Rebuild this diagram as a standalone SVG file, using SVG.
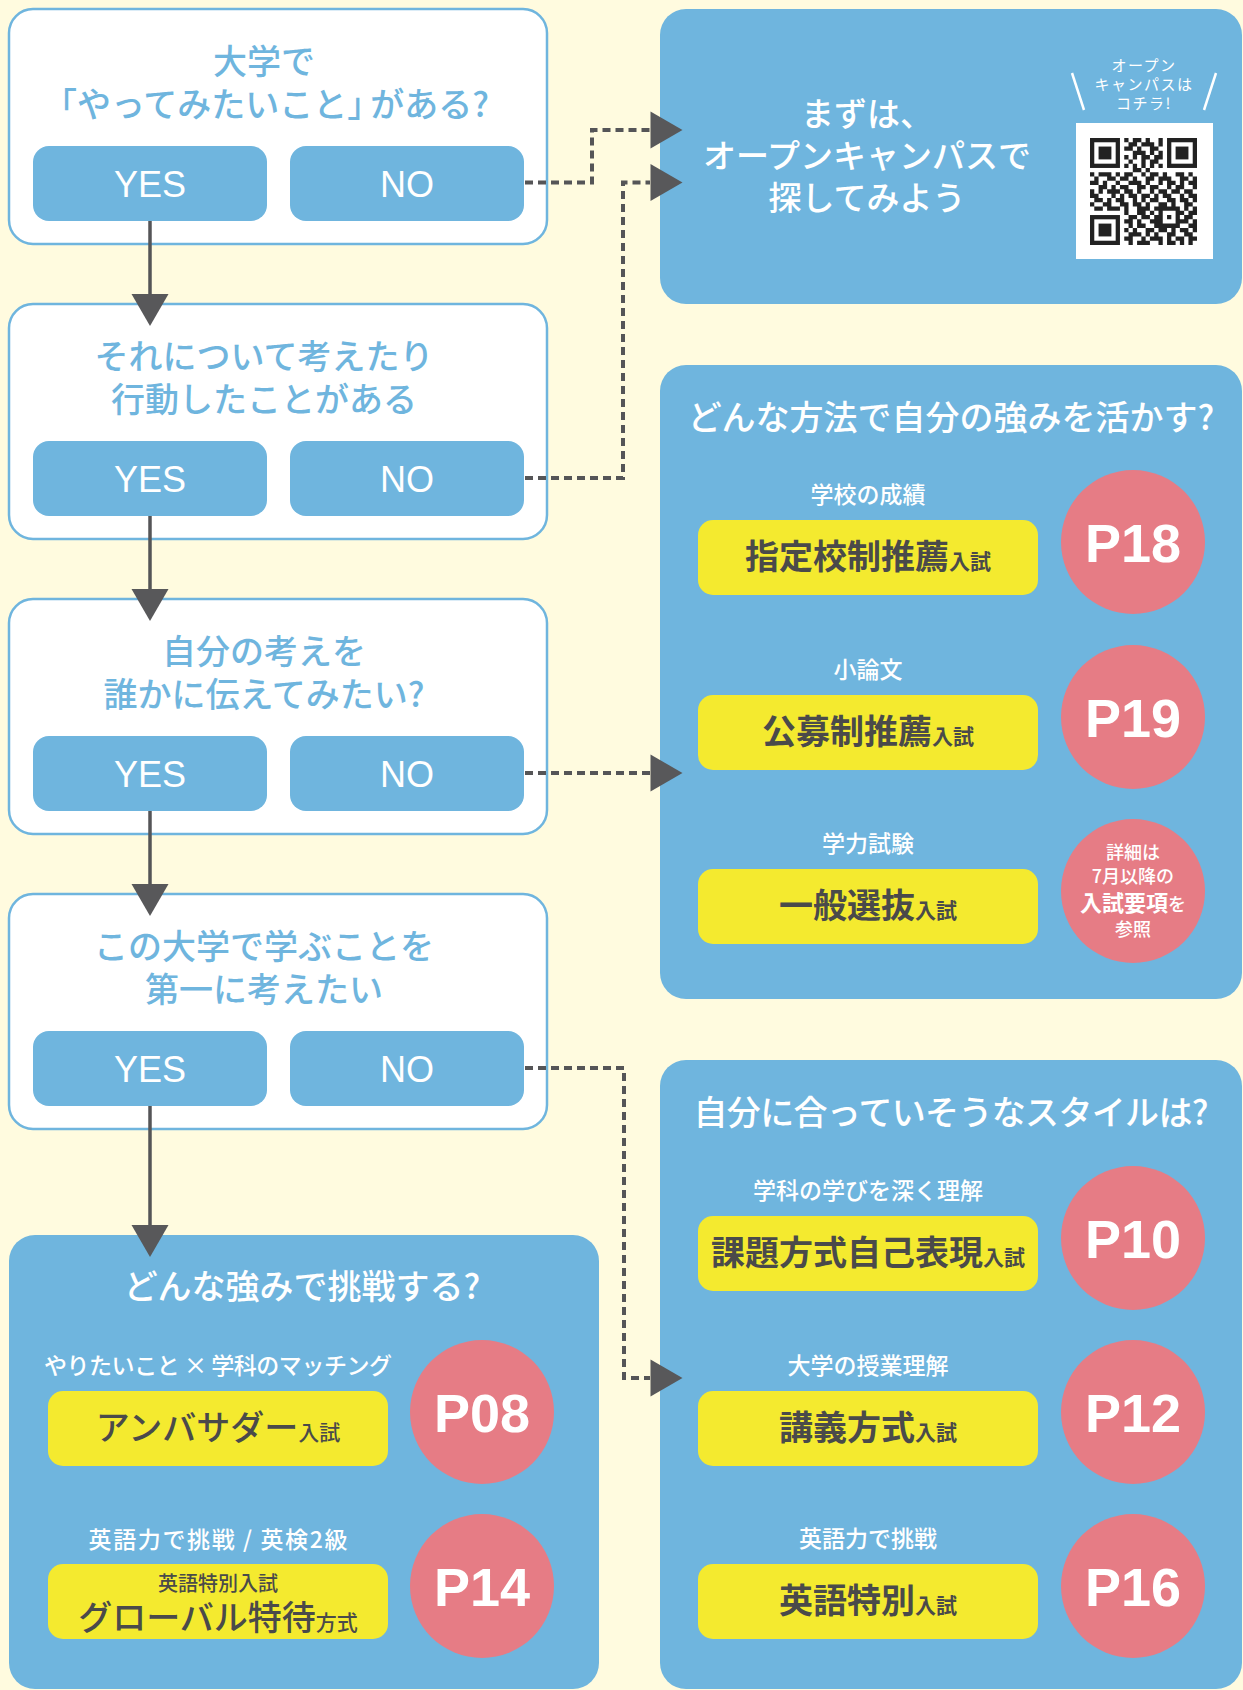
<svg xmlns="http://www.w3.org/2000/svg" width="1243" height="1690" viewBox="0 0 1243 1690">
<style>
.bg{fill:#fffbdf}
.qbox{fill:#fff;stroke:#6fb5de;stroke-width:2.5}
.btn{fill:#6fb5de}
.btnt{font-family:"Liberation Sans",Arial,sans-serif;font-size:36px;fill:#fff;text-anchor:middle}
.qt{font-family:"Noto Sans CJK JP",sans-serif;font-size:34px;fill:#6fb5de;text-anchor:middle;font-weight:500}
.panel{fill:#6fb5de}
.pt{font-family:"Noto Sans CJK JP",sans-serif;font-size:34px;fill:#fff;text-anchor:middle;font-weight:500}
.lbl{font-family:"Noto Sans CJK JP",sans-serif;font-size:23px;fill:#fff;text-anchor:middle;font-weight:500}
.yb{fill:#f4ea2f}
.yt{font-family:"Noto Sans CJK JP",sans-serif;font-size:34px;fill:#4a4a4a;text-anchor:middle;font-weight:700}
.sm{font-size:21px}
.circ{fill:#e67c85}
.pn{font-family:"Liberation Sans",Arial,sans-serif;font-size:54px;font-weight:700;fill:#fff;text-anchor:middle}
.ct{font-family:"Noto Sans CJK JP",sans-serif;font-size:18px;fill:#fff;text-anchor:middle;font-weight:500}
.solid{stroke:#555557;stroke-width:3.5;fill:none}
.dot{stroke:#555557;stroke-width:4;stroke-dasharray:8 5;fill:none}
.ah{fill:#58585a}
.qrl{font-family:"Noto Sans CJK JP",sans-serif;font-size:15px;fill:#fff;text-anchor:middle;letter-spacing:1.5px}
</style>
<defs>
<polygon id="ahDown" points="-18.5,0 18.5,0 0,32"/>
<polygon id="ahRight" points="0,-18.5 0,18.5 32,0"/>
</defs>
<rect class="bg" x="0" y="0" width="1243" height="1690"/>

<g id="q1">
<rect class="qbox" x="9" y="9" width="538" height="235" rx="24"/>
<text class="qt" x="264" y="74">大学で</text>
<text class="qt" x="266" y="117">「やってみたいこと」<tspan dx="-11">がある?</tspan></text>
<rect class="btn" x="33" y="146" width="234" height="75" rx="16"/>
<rect class="btn" x="290" y="146" width="234" height="75" rx="16"/>
<text class="btnt" x="150" y="197">YES</text>
<text class="btnt" x="407" y="197">NO</text>
</g>

<g id="q2">
<rect class="qbox" x="9" y="304" width="538" height="235" rx="24"/>
<text class="qt" x="264" y="369">それについて考えたり</text>
<text class="qt" x="264" y="412">行動したことがある</text>
<rect class="btn" x="33" y="441" width="234" height="75" rx="16"/>
<rect class="btn" x="290" y="441" width="234" height="75" rx="16"/>
<text class="btnt" x="150" y="492">YES</text>
<text class="btnt" x="407" y="492">NO</text>
</g>

<g id="q3">
<rect class="qbox" x="9" y="599" width="538" height="235" rx="24"/>
<text class="qt" x="264" y="664">自分の考えを</text>
<text class="qt" x="264" y="707">誰かに伝えてみたい?</text>
<rect class="btn" x="33" y="736" width="234" height="75" rx="16"/>
<rect class="btn" x="290" y="736" width="234" height="75" rx="16"/>
<text class="btnt" x="150" y="787">YES</text>
<text class="btnt" x="407" y="787">NO</text>
</g>

<g id="q4">
<rect class="qbox" x="9" y="894" width="538" height="235" rx="24"/>
<text class="qt" x="264" y="959">この大学で学ぶことを</text>
<text class="qt" x="264" y="1002">第一に考えたい</text>
<rect class="btn" x="33" y="1031" width="234" height="75" rx="16"/>
<rect class="btn" x="290" y="1031" width="234" height="75" rx="16"/>
<text class="btnt" x="150" y="1082">YES</text>
<text class="btnt" x="407" y="1082">NO</text>
</g>

<g id="openCampus">
<rect class="panel" x="660" y="9" width="582" height="295" rx="26"/>
<text class="pt" x="867" y="126" style="font-size:33px">まずは、</text>
<text class="pt" x="867" y="168" style="font-size:33px">オープンキャンパスで</text>
<text class="pt" x="867" y="210" style="font-size:33px">探してみよう</text>
<text class="qrl" x="1144" y="71">オープン</text>
<text class="qrl" x="1144" y="90">キャンパスは</text>
<text class="qrl" x="1144" y="109">コチラ!</text>
<line x1="1072" y1="73" x2="1084" y2="110" stroke="#fff" stroke-width="2.5"/>
<line x1="1216" y1="73" x2="1204" y2="110" stroke="#fff" stroke-width="2.5"/>
<rect x="1076" y="123" width="137" height="136" fill="#fff"/>
<g transform="translate(1090,138) scale(4.28)" fill="none" stroke="#222" stroke-width="1">
<rect x="0.5" y="0.5" width="6" height="6"/>
<rect x="18.5" y="0.5" width="6" height="6"/>
<rect x="0.5" y="18.5" width="6" height="6"/>
<rect x="2" y="2" width="3" height="3" fill="#222" stroke="none"/>
<rect x="20" y="2" width="3" height="3" fill="#222" stroke="none"/>
<rect x="2" y="20" width="3" height="3" fill="#222" stroke="none"/>
<path d="M8 0.5h1M10 0.5h2M13 0.5h1M16 0.5h1
M9 1.5h2M12 1.5h3M16 1.5h1
M8 2.5h2M11 2.5h1M14 2.5h2
M10 3.5h3M14 3.5h1M16 3.5h1
M8 4.5h1M10 4.5h1M12 4.5h2M15 4.5h2
M9 5.5h1M12 5.5h1M14 5.5h2
M8 6.5h1M10 6.5h1M12 6.5h1M14 6.5h1M16 6.5h1
M10 7.5h2M13 7.5h1
M0 8.5h1M2 8.5h3M6 8.5h1M8 8.5h2M12 8.5h1M14 8.5h2M17 8.5h1M20 8.5h2M23 8.5h1
M1 9.5h1M4 9.5h2M7 9.5h2M10 9.5h1M13 9.5h2M16 9.5h3M21 9.5h2M24 9.5h1
M0 10.5h2M3 10.5h1M6 10.5h1M9 10.5h3M13 10.5h1M16 10.5h1M18 10.5h2M21 10.5h1M23 10.5h2
M2 11.5h2M5 11.5h1M7 11.5h2M11 11.5h2M14 11.5h2M18 11.5h1M20 11.5h2M24 11.5h1
M0 12.5h1M2 12.5h1M4 12.5h3M8 12.5h2M11 12.5h1M14 12.5h1M16 12.5h2M19 12.5h2M22 12.5h2
M0 13.5h2M5 13.5h1M7 13.5h1M9 13.5h2M12 13.5h2M15 13.5h1M17 13.5h2M21 13.5h1M23 13.5h2
M1 14.5h2M4 14.5h1M6 14.5h2M10 14.5h1M12 14.5h1M14 14.5h2M18 14.5h2M21 14.5h2M24 14.5h1
M0 15.5h1M3 15.5h2M7 15.5h2M10 15.5h2M13 15.5h1M16 15.5h2M19 15.5h1M22 15.5h2
M1 16.5h2M4 16.5h3M8 16.5h1M11 16.5h3M15 16.5h6M22 16.5h1M24 16.5h1
M8 17.5h1M11 17.5h2M14 17.5h1M16 17.5h1M20 17.5h2M23 17.5h2
M9 18.5h2M12 18.5h2M15 18.5h2M18 18.5h1M20 18.5h1M22 18.5h2
M8 19.5h2M11 19.5h1M14 19.5h3M20 19.5h3M24 19.5h1
M9 20.5h1M11 20.5h2M15 20.5h6M23 20.5h2
M8 21.5h1M10 21.5h1M13 21.5h2M16 21.5h2M19 21.5h1M21 21.5h2M24 21.5h1
M9 22.5h3M13 22.5h1M15 22.5h1M18 22.5h2M22 22.5h2
M8 23.5h2M12 23.5h1M14 23.5h3M18 23.5h1M20 23.5h2M23 23.5h2
M9 24.5h1M11 24.5h3M16 24.5h1M18 24.5h2M21 24.5h1M23 24.5h1"/>
</g>
</g>

<g id="methodPanel">
<rect class="panel" x="660" y="365" width="582" height="634" rx="26"/>
<text class="pt" x="951" y="430">どんな方法で自分の強みを活かす?</text>
</g>

<g id="shitei">
<text class="lbl" x="868" y="503">学校の成績</text>
<rect class="yb" x="698" y="520" width="340" height="75" rx="15"/>
<text class="yt" x="868" y="569">指定校制推薦<tspan class="sm">入試</tspan></text>
<circle class="circ" cx="1133" cy="542" r="72"/>
<text class="pn" x="1133" y="562">P18</text>
</g>

<g id="koubo">
<text class="lbl" x="868" y="678">小論文</text>
<rect class="yb" x="698" y="695" width="340" height="75" rx="15"/>
<text class="yt" x="868" y="744">公募制推薦<tspan class="sm">入試</tspan></text>
<circle class="circ" cx="1133" cy="717" r="72"/>
<text class="pn" x="1133" y="737">P19</text>
</g>

<g id="ippan">
<text class="lbl" x="868" y="852">学力試験</text>
<rect class="yb" x="698" y="869" width="340" height="75" rx="15"/>
<text class="yt" x="868" y="918">一般選抜<tspan class="sm">入試</tspan></text>
<circle class="circ" cx="1133" cy="891" r="72"/>
<text class="ct" x="1133" y="859">詳細は</text>
<text class="ct" x="1133" y="883">7月以降の</text>
<text class="ct" x="1133" y="911"><tspan style="font-size:22px;font-weight:700">入試要項</tspan>を</text>
<text class="ct" x="1133" y="936">参照</text>
</g>

<g id="stylePanel">
<rect class="panel" x="660" y="1060" width="582" height="629" rx="26"/>
<text class="pt" x="951" y="1125" textLength="515">自分に合っていそうなスタイルは?</text>
</g>

<g id="kadai">
<text class="lbl" x="868" y="1199">学科の学びを深く理解</text>
<rect class="yb" x="698" y="1216" width="340" height="75" rx="15"/>
<text class="yt" x="868" y="1265">課題方式自己表現<tspan class="sm">入試</tspan></text>
<circle class="circ" cx="1133" cy="1238" r="72"/>
<text class="pn" x="1133" y="1258">P10</text>
</g>

<g id="kougi">
<text class="lbl" x="868" y="1374">大学の授業理解</text>
<rect class="yb" x="698" y="1391" width="340" height="75" rx="15"/>
<text class="yt" x="868" y="1440">講義方式<tspan class="sm">入試</tspan></text>
<circle class="circ" cx="1133" cy="1412" r="72"/>
<text class="pn" x="1133" y="1432">P12</text>
</g>

<g id="eigo">
<text class="lbl" x="868" y="1547">英語力で挑戦</text>
<rect class="yb" x="698" y="1564" width="340" height="75" rx="15"/>
<text class="yt" x="868" y="1613">英語特別<tspan class="sm">入試</tspan></text>
<circle class="circ" cx="1133" cy="1586" r="72"/>
<text class="pn" x="1133" y="1606">P16</text>
</g>

<g id="strengthPanel">
<rect class="panel" x="9" y="1235" width="590" height="454" rx="26"/>
<text class="pt" x="302" y="1299">どんな強みで挑戦する?</text>
</g>

<g id="ambassador">
<text class="lbl" x="218" y="1374" textLength="348">やりたいこと × 学科のマッチング</text>
<rect class="yb" x="48" y="1391" width="340" height="75" rx="15"/>
<text class="yt" x="218" y="1440" style="font-weight:500">アンバサダー<tspan class="sm">入試</tspan></text>
<circle class="circ" cx="482" cy="1412" r="72"/>
<text class="pn" x="482" y="1432">P08</text>
</g>

<g id="global">
<text class="lbl" x="218" y="1548" textLength="259">英語力で挑戦 / 英検2級</text>
<rect class="yb" x="48" y="1564" width="340" height="75" rx="15"/>
<text class="yt" x="218" y="1591" style="font-size:20px;font-weight:500">英語特別入試</text>
<text class="yt" x="218" y="1630" style="font-weight:500">グローバル特待<tspan class="sm">方式</tspan></text>
<circle class="circ" cx="482" cy="1586" r="72"/>
<text class="pn" x="482" y="1606">P14</text>
</g>

<g id="connectors">
<line class="solid" x1="150" y1="221" x2="150" y2="296"/>
<line class="solid" x1="150" y1="516" x2="150" y2="591"/>
<line class="solid" x1="150" y1="811" x2="150" y2="886"/>
<line class="solid" x1="150" y1="1106" x2="150" y2="1227"/>
<use href="#ahDown" class="ah" x="150" y="294"/>
<use href="#ahDown" class="ah" x="150" y="589"/>
<use href="#ahDown" class="ah" x="150" y="884"/>
<use href="#ahDown" class="ah" x="150" y="1225"/>
<path class="dot" d="M525 182.5H592V130H650"/>
<path class="dot" d="M525 478H623V182.5H650"/>
<path class="dot" d="M525 773H650"/>
<path class="dot" d="M525 1068H624V1378H650"/>
<use href="#ahRight" class="ah" x="650.5" y="130"/>
<use href="#ahRight" class="ah" x="650.5" y="182.5"/>
<use href="#ahRight" class="ah" x="650.5" y="773"/>
<use href="#ahRight" class="ah" x="650.5" y="1378"/>
</g>
</svg>
